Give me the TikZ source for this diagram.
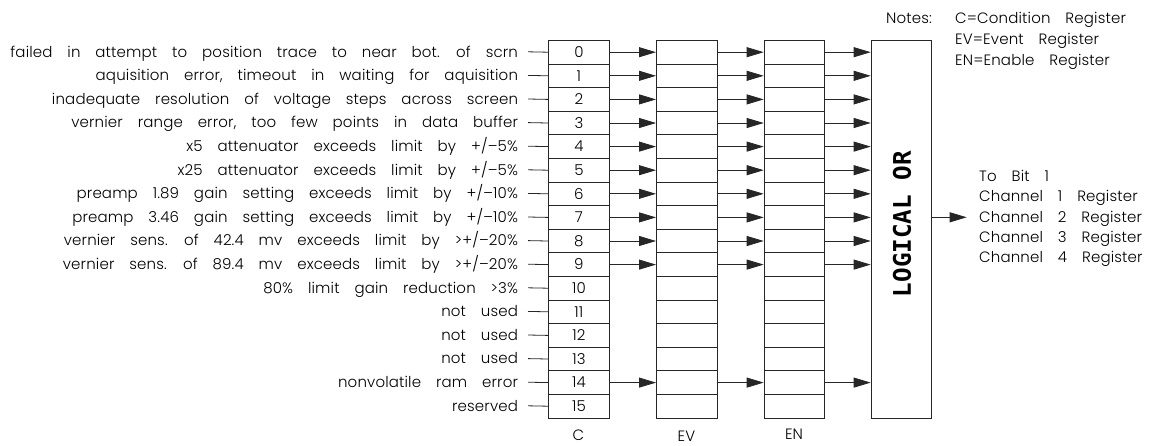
\documentclass[tikz,border=0pt]{standalone}
\usepackage{fontspec}
\setmainfont{Poppins}[UprightFont=* Light, WordSpace=3.5, LetterSpace=1.0]
\newfontfamily\orfont{DejaVu Sans Mono}
\usetikzlibrary{arrows.meta}

\begin{document}
\begin{tikzpicture}[x=1pt, y=-1pt,
  txt/.style={inner sep=0pt, text height=10.5pt, text depth=0pt,
              font=\fontsize{15}{15}\selectfont},
  cell/.style={txt, draw=black!85, line width=0.8pt, anchor=north west,
               minimum width=61pt, minimum height=23.6pt},
  lbl/.style={txt, anchor=east, outer xsep=10pt},
  wire/.style={draw=black!85, line width=0.8pt},
  arr/.style={wire, -{Triangle[length=17pt, width=10pt]}},
]
\useasboundingbox (0,0) rectangle (1151,445);

% the three 16-bit registers: condition, event, enable
\foreach \i in {0,...,15} {
  \node[cell] (c\i)  at (548,   {40+\i*23.6}) {\i};
  \node[cell] (ev\i) at (656,   {40+\i*23.6}) {};
  \node[cell, minimum width=60.6pt] (en\i) at (763.7, {40+\i*23.6}) {};
}

% logical OR gate
\node[draw=black!85, line width=0.8pt, anchor=north west, inner sep=0pt,
      minimum width=60.6pt, minimum height=377.6pt] (or) at (870.7,40) {};
\node[rotate=90, inner sep=0pt, font=\orfont\bfseries\fontsize{24.25}{24}\selectfont]
  (ortext) at (902,224) {LOGICAL OR};

% bit descriptions
\node[lbl] (l0)  at (528, 51.8)  {failed in attempt to position trace to near bot. of scrn};
\node[lbl] (l1)  at (528, 75.4)  {aquisition error, timeout in waiting for aquisition};
\node[lbl] (l2)  at (528, 99.0)  {inadequate resolution of voltage steps across screen};
\node[lbl] (l3)  at (528, 122.6) {vernier range error, too few points in data buffer};
\node[lbl] (l4)  at (528, 146.2) {x5 attenuator exceeds limit by +/–5\%};
\node[lbl] (l5)  at (528, 169.8) {x25 attenuator exceeds limit by +/–5\%};
\node[lbl] (l6)  at (528, 193.4) {preamp 1.89 gain setting exceeds limit by +/–10\%};
\node[lbl] (l7)  at (528, 217.0) {preamp 3.46 gain setting exceeds limit by +/–10\%};
\node[lbl] (l8)  at (528, 240.6) {vernier sens. of 42.4 mv exceeds limit by >+/–20\%};
\node[lbl] (l9)  at (528, 264.2) {vernier sens. of 89.4 mv exceeds limit by >+/–20\%};
\node[lbl] (l10) at (528, 287.8) {80\% limit gain reduction >3\%};
\node[lbl] (l11) at (528, 311.4) {not used};
\node[lbl] (l12) at (528, 335.0) {not used};
\node[lbl] (l13) at (528, 358.6) {not used};
\node[lbl] (l14) at (528, 382.2) {nonvolatile ram error};
\node[lbl] (l15) at (528, 405.8) {reserved};

\foreach \i in {0,...,15} { \draw[wire] (l\i.east) -- (c\i.west); }

% signal paths through the registers
\foreach \i in {0,...,9,14} {
  \draw[arr] (c\i.east)  -- (ev\i.west);
  \draw[arr] (ev\i.east) -- (en\i.west);
  \draw[arr] (en\i.east) -- (en\i.east -| or.west);
}

% output
\coordinate (out) at (966.7,217.3);
\draw[arr] (or.east |- out) -- (out);
\node[txt, anchor=west] (o0) at (979,176) {To Bit 1};
\node[txt, anchor=west] (o1) at (979,196.5) {Channel 1 Register};
\node[txt, anchor=west] (o2) at (979,216.8) {Channel 2 Register};
\node[txt, anchor=west] (o3) at (979,237) {Channel 3 Register};
\node[txt, anchor=west] (o4) at (979,257.3) {Channel 4 Register};

% notes
\node[txt, anchor=west] (notes) at (886,18.3) {Notes:};
\node[txt, anchor=west] (n1) at (955,18.3) {C=Condition Register};
\node[txt, anchor=west] (n2) at (955,39.3) {EV=Event Register};
\node[txt, anchor=west] (n3) at (955,60.7) {EN=Enable Register};

% register names
\node[txt] (cname)  at (578.5,435.7) {C};
\node[txt] (evname) at (686.5,436.7) {EV};
\node[txt] (enname) at (794,434)     {EN};
\end{tikzpicture}
\end{document}
